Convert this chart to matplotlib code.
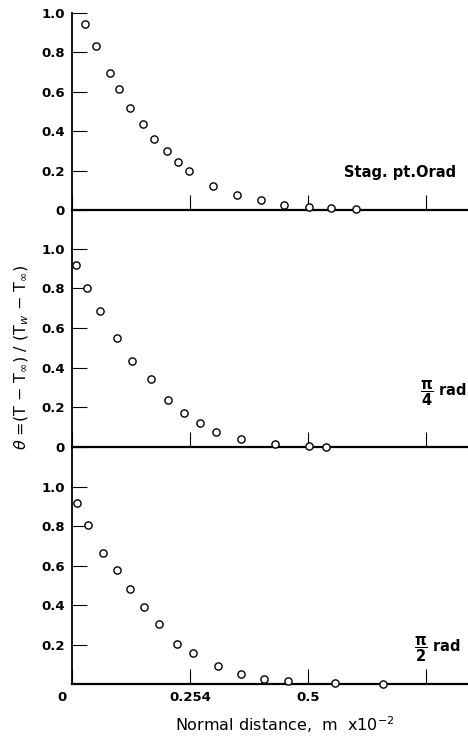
import numpy as np
import matplotlib
matplotlib.use('Agg')
import matplotlib.pyplot as plt
import matplotlib.transforms as mtransforms

plt.rcParams['font.family'] = ['DejaVu Sans']
plt.rcParams['mathtext.fontset'] = 'dejavusans'

# Stagnation point (0 rad)
x_stag = [0.0273, 0.0509, 0.0825, 0.1012, 0.1256, 0.1521, 0.1772, 0.2052, 0.2282,
          0.2525, 0.3042, 0.3559, 0.4068, 0.4570, 0.5094, 0.5582, 0.6120]
y_stag = [0.942, 0.831, 0.697, 0.616, 0.519, 0.438, 0.359, 0.298, 0.244,
          0.196, 0.122, 0.078, 0.049, 0.025, 0.014, 0.008, 0.005]

# pi/4 rad
x_q4 = [0.0086, 0.0330, 0.0610, 0.0969, 0.1299, 0.1693, 0.2059, 0.2411, 0.2755,
        0.3107, 0.3645, 0.4369, 0.5094, 0.5474]
y_q4 = [0.917, 0.803, 0.687, 0.549, 0.431, 0.340, 0.234, 0.170, 0.118,
        0.072, 0.040, 0.012, 0.003, 0.000]

# pi/2 rad
x_q2 = [0.0100, 0.0352, 0.0667, 0.0969, 0.1256, 0.1557, 0.1865, 0.2267, 0.2604,
        0.3136, 0.3637, 0.4140, 0.4649, 0.5668, 0.6701]
y_q2 = [0.916, 0.807, 0.666, 0.576, 0.483, 0.389, 0.306, 0.203, 0.159,
        0.093, 0.049, 0.025, 0.015, 0.003, 0.002]

x_ticks = [0.0, 0.254, 0.508, 0.762]
x_ticklabels = ['0', '0.254', '0.5', '']
y_ticks = [0.0, 0.2, 0.4, 0.6, 0.8, 1.0]
y_ticklabels = ['0', '0.2', '0.4', '0.6', '0.8', '1.0']

panels = [
    (x_stag, y_stag, 'Stag. pt.Orad'),
    (x_q4, y_q4, r'$\dfrac{\mathbf{\pi}}{\mathbf{4}}$ rad'),
    (x_q2, y_q2, r'$\dfrac{\mathbf{\pi}}{\mathbf{2}}$ rad'),
]

fig = plt.figure(figsize=(4.68, 7.36), dpi=100)

# axes rectangles in figure fraction, stacked so the left spine is continuous
rects = [(0.1538, 0.6621, 0.846, 0.3202),
         (0.1538, 0.3387, 0.846, 0.3234),
         (0.1538, 0.0707, 0.846, 0.2681)]
ylims = [(-0.196, 1.0), (-0.202, 1.0), (0.0, 1.0)]
label_pos = [(0.975, 0.765), (0.998, 0.466), (0.985, 0.118)]

for i, (xs, ys, name) in enumerate(panels):
    ax = fig.add_axes(rects[i])
    ax.plot(xs, ys, linestyle='none', marker='o', ms=5.2, mfc='white',
            mec='black', mew=1.0, clip_on=False, zorder=5)
    ax.set_xlim(0, 0.852)
    ax.set_ylim(*ylims[i])
    ax.spines['top'].set_visible(False)
    ax.spines['right'].set_visible(False)
    ax.spines['left'].set_linewidth(1.3)
    ax.spines['bottom'].set_position(('data', 0))
    ax.spines['bottom'].set_linewidth(1.6)
    ax.tick_params(axis='both', direction='in', length=11, width=0.8,
                   labelsize=9.5, pad=5)
    ax.set_xticks(x_ticks)
    if i < 2:
        ax.set_xticklabels([])
        ax.set_yticks(y_ticks)
        ax.set_yticklabels(y_ticklabels)
    else:
        ax.set_xticklabels(x_ticklabels)
        ax.set_yticks(y_ticks[1:])
        ax.set_yticklabels(y_ticklabels[1:])
        lbl = ax.get_xticklabels()[0]
        lbl.set_transform(lbl.get_transform() +
                          mtransforms.ScaledTranslation(-10 / 100, 0, fig.dpi_scale_trans))
    for t in ax.get_yticklabels() + ax.get_xticklabels():
        t.set_fontweight('bold')
    fig.text(label_pos[i][0], label_pos[i][1], name, ha='right', va='center',
             fontsize=10.5, fontweight='bold')

fig.text(0.047, 0.514,
         r'$\theta$ =(T $-$ T$_\infty$) / (T$_w$ $-$ T$_\infty$)',
         rotation=90, ha='center', va='center', fontsize=11.5)
fig.text(0.609, 0.015, r'Normal distance,  m  x10$^{-2}$',
         ha='center', va='center', fontsize=11.5)

fig.savefig('out.png', dpi=100)
